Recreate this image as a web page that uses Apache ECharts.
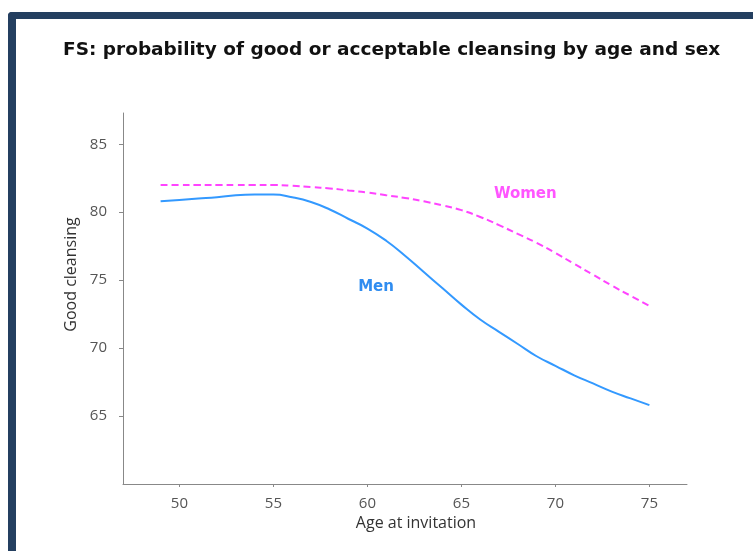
<!DOCTYPE html>
<html>
<head>
<meta charset="utf-8">
<script src="https://cdn.jsdelivr.net/npm/echarts@6/dist/echarts.min.js"></script>
<style>
  html, body { margin: 0; padding: 0; background: #ffffff; }
  #frame { position: absolute; left: 8px; top: 12px; width: 760px; height: 560px;
           border-top: 7px solid #243f60; border-left: 8px solid #243f60;
           border-top-left-radius: 4px; box-sizing: border-box; }
  #main { position: absolute; left: 0; top: 0; width: 753px; height: 551px; }
</style>
</head>
<body>
<div id="frame"></div>
<div id="main"></div>
<script>
const ages = [49,50,51,52,53,54,55,56,57,58,59,60,61,62,63,64,65,66,67,68,69,70,71,72,73,74,75];
const men = [80.8,80.9,81.0,81.1,81.25,81.3,81.3,81.1,80.75,80.2,79.5,78.8,77.9,76.8,75.6,74.4,73.2,72.1,71.2,70.3,69.4,68.7,68.0,67.4,66.8,66.3,65.8];
const women = [82.0,82.0,82.0,82.0,82.0,82.0,82.0,81.95,81.85,81.75,81.6,81.45,81.25,81.05,80.8,80.5,80.15,79.65,79.05,78.4,77.75,77.0,76.2,75.4,74.6,73.85,73.1];
const xTicks = [50,55,60,65,70,75];
const yTicks = [65,70,75,80,85];
const menLabelAt = [60.46, 74.5];
const womenLabelAt = [68.4, 81.35];

const chart = echarts.init(document.getElementById('main'), null, {renderer: 'canvas'});
const axisFont = '"Open Sans", Lato, sans-serif';
chart.setOption({
  animation: false,
  backgroundColor: 'transparent',
  title: {
    text: 'FS: probability of good or acceptable cleansing by age and sex',
    left: 58, top: 36,
    textStyle: { fontFamily: '"DejaVu Sans", Verdana, sans-serif', fontWeight: 'bold', fontSize: 18.5, color: '#111' }
  },
  grid: { left: 123, top: 113, right: 66, bottom: 67, containLabel: false, outerBoundsMode: 'none' },
  xAxis: {
    type: 'value', min: 47, max: 77,
    name: 'Age at invitation', nameLocation: 'middle', nameGap: 30,
    nameTextStyle: { fontFamily: axisFont, fontSize: 16, color: '#333', padding: [0, 0, 0, 22] },
    axisLine: { show: true, lineStyle: { color: '#888', width: 1 } },
    axisTick: { show: true, length: 3, customValues: xTicks, lineStyle: { color: '#888' } },
    axisLabel: { customValues: xTicks, margin: 12, fontFamily: axisFont, fontSize: 15, color: '#555' },
    splitLine: { show: false }
  },
  yAxis: {
    type: 'value', min: 60, max: 87.3,
    name: 'Good cleansing', nameLocation: 'middle', nameGap: 40,
    nameTextStyle: { fontFamily: axisFont, fontSize: 16, color: '#333', padding: [0, 0, 0, 48] },
    axisLine: { show: true, lineStyle: { color: '#888', width: 1 } },
    axisTick: { show: true, length: 4, customValues: yTicks, lineStyle: { color: '#888' } },
    axisLabel: { customValues: yTicks, margin: 16, fontFamily: axisFont, fontSize: 15, color: '#555' },
    splitLine: { show: false }
  },
  series: [
    {
      name: 'Men', type: 'line', smooth: true, symbol: 'none',
      data: ages.map((a, i) => [a, men[i]]),
      lineStyle: { color: '#3399ff', width: 2 },
      markPoint: {
        symbol: 'circle', symbolSize: 1, itemStyle: { color: 'rgba(0,0,0,0)' },
        label: { show: true, position: 'inside', formatter: 'Men', fontFamily: '"DejaVu Sans", sans-serif', fontWeight: 'bold', fontSize: 15, color: '#2f8cf0' },
        data: [{ coord: menLabelAt }]
      }
    },
    {
      name: 'Women', type: 'line', smooth: true, symbol: 'none',
      data: ages.map((a, i) => [a, women[i]]),
      lineStyle: { color: '#ff44ff', width: 2, type: [7, 4] },
      markPoint: {
        symbol: 'circle', symbolSize: 1, itemStyle: { color: 'rgba(0,0,0,0)' },
        label: { show: true, position: 'inside', formatter: 'Women', fontFamily: '"DejaVu Sans", sans-serif', fontWeight: 'bold', fontSize: 15, color: '#ff55ff' },
        data: [{ coord: womenLabelAt }]
      }
    }
  ]
});
</script>
</body>
</html>
